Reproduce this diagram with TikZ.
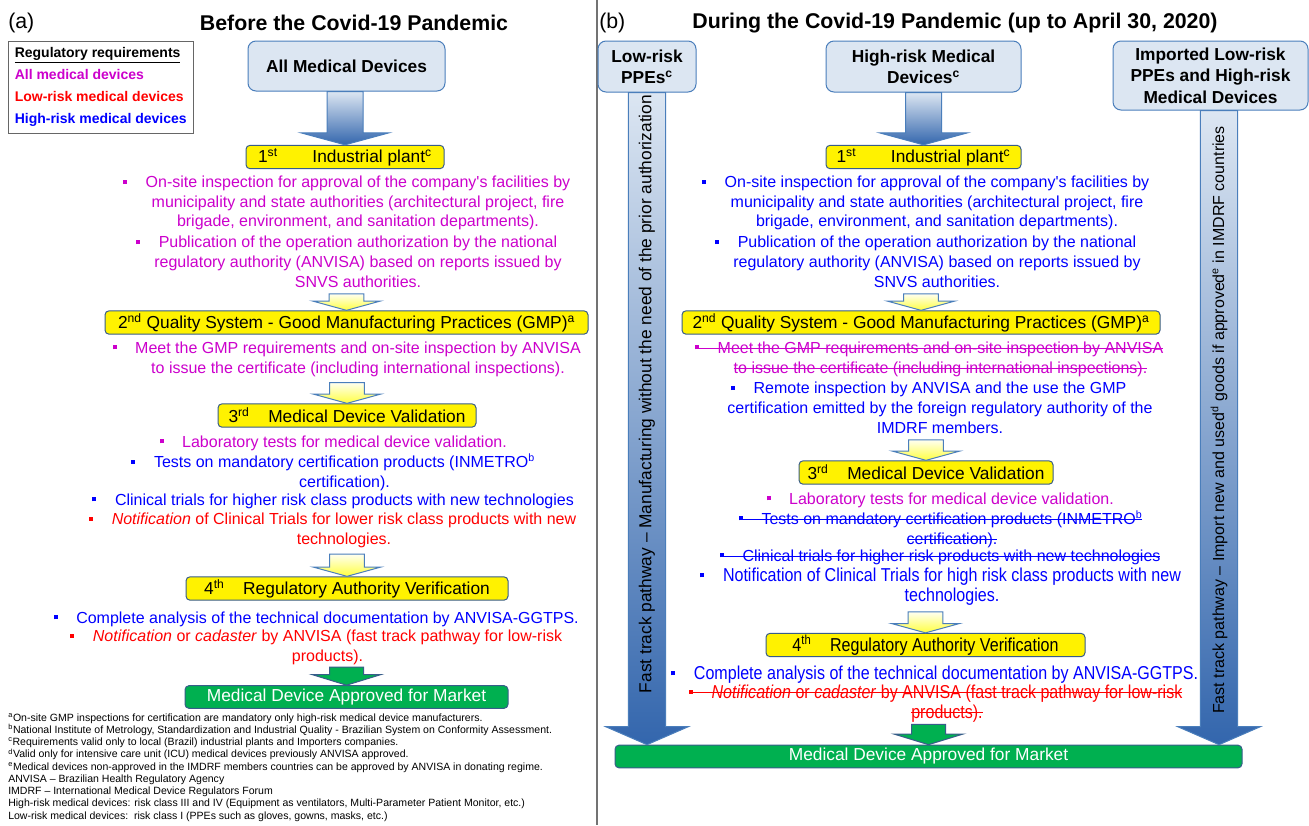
\documentclass[tikz,border=0pt]{standalone}
\usepackage{fontspec}
\setmainfont{Liberation Sans}
\newfontfamily\tallsf[FakeStretch=0.86]{Liberation Sans}
\usepackage{xcolor}
\usetikzlibrary{positioning, calc}

\definecolor{boxblue}{HTML}{DCE6F2}
\definecolor{edgeblue}{HTML}{4A7EBB}
\definecolor{darkedge}{HTML}{385D8A}
\definecolor{magentatxt}{HTML}{CC00CC}
\definecolor{redtxt}{HTML}{FF0000}
\definecolor{bluetxt}{HTML}{0000FF}
\definecolor{okgreen}{HTML}{00B050}
\definecolor{arrowdark}{HTML}{3366AD}
\definecolor{arrowlight}{HTML}{DCE6F2}

% hanging bullets, plain and struck out
\newsavebox{\strikebox}
\newcommand{\bul}{\llap{\rule[0.24em]{3pt}{3pt}\hspace{14pt}}}
\newcommand{\sbul}{\llap{\rule[0.24em]{3pt}{3pt}\rule[0.27em]{14pt}{0.6pt}}}
\newcommand{\striked}[1]{\sbox{\strikebox}{#1}\rlap{\rule[0.27em]{\wd\strikebox}{0.6pt}}\usebox{\strikebox}}

% block arrow pointing down: style, top, tip, half shaft, half head, head length, top gap
\newcommand{\stagearrow}[7]{%
  \path[#1] let \p1=#2, \p2=#3 in
    (\x2-#4,\y1-#7) -- (\x2+#4,\y1-#7) -- (\x2+#4,\y2+#6) -- (\x2+#5,\y2+#6)
    -- (\x2,\y2) -- (\x2-#5,\y2+#6) -- (\x2-#4,\y2+#6) -- cycle;}

\begin{document}
\begin{tikzpicture}[x=0.75pt, y=-0.75pt,
    title/.style={inner sep=0pt, font=\fontsize{16}{19}\selectfont\bfseries},
    panel/.style={inner sep=0pt, anchor=west, font=\fontsize{16}{19}\selectfont},
    legend/.style={draw=black!60, line width=0.75pt, fill=white, align=left,
      minimum width=138.4pt, minimum height=69pt, inner xsep=5pt,
      font=\fontsize{10.5}{16.5}\selectfont\bfseries},
    srcbox/.style={draw=edgeblue, fill=boxblue, rounded corners=6pt, line width=0.75pt,
      align=center, inner sep=0pt, font=\fontsize{13}{16}\selectfont\bfseries},
    stagebox/.style={draw=darkedge, fill=yellow, rounded corners=3pt, line width=0.75pt,
      minimum height=17.5pt, inner sep=0pt, font=\fontsize{13}{15}\selectfont},
    approved/.style={draw=darkedge, fill=okgreen, text=white, rounded corners=3pt,
      line width=0.75pt, minimum height=17pt, inner sep=0pt, font=\fontsize{13}{15}\selectfont},
    txt/.style={align=center, inner sep=0pt, font=\fontsize{12}{14.85}\selectfont},
    tall/.style={font=\tallsf\fontsize{14}{15}\selectfont},
    note/.style={align=left, inner sep=0pt, anchor=north west, font=\fontsize{7.9}{9.2}\selectfont},
    bluearrow/.style={draw=edgeblue, line width=0.75pt, top color=arrowlight, bottom color=arrowdark},
    yellowarrow/.style={draw=edgeblue, line width=0.75pt, top color=yellow!6, bottom color=yellow!75},
    greenarrow/.style={draw=darkedge, line width=0.75pt, fill=okgreen},
    fasttxt/.style={inner sep=0pt, rotate=90, font=\fontsize{13}{15}\selectfont}]

    \fill[white] (0,0) rectangle (1309,825);
    \useasboundingbox (0,0) rectangle (1309,825);
    \draw[black!55, line width=1.5pt] (597,0) -- (597,825);

    % ---- (a) before the pandemic
    \node[panel] (lblA) at (8,23) {(a)};
    \node[title] (titleA) at (354,23) {Before the Covid-19 Pandemic};
    \node[legend] (legend) at (100.75,87) {\underline{Regulatory requirements}\\
      \textcolor{magentatxt}{All medical devices}\\
      \textcolor{redtxt}{Low-risk medical devices}\\
      \textcolor{bluetxt}{High-risk medical devices}};

    \node[srcbox, minimum width=147.75pt, minimum height=37.5pt] (amd) at (346.5,66) {All Medical Devices};
    \node[stagebox, minimum width=148.5pt] (plantA) at (345,157)
      {1\textsuperscript{st}\hspace{26pt}Industrial plant\textsuperscript{c}};
    \node[txt, text=magentatxt] (onsiteA) at (358,203) {\bul On-site inspection for approval of the company\textquotesingle s facilities by\\
      municipality and state authorities (architectural project, fire\\
      brigade, environment, and sanitation departments).};
    \node[txt, text=magentatxt] (pubA) at (358,262) {\bul Publication of the operation authorization by the national\\
      regulatory authority (ANVISA) based on reports issued by\\ SNVS authorities.};
    \node[stagebox, minimum width=362.25pt] (gmpA) at (346.5,322.5)
      {2\textsuperscript{nd} Quality System - Good Manufacturing Practices (GMP)\textsuperscript{a}};
    \node[txt, text=magentatxt] (meetA) at (358,359) {\bul Meet the GMP requirements and on-site inspection by ANVISA\\
      to issue the certificate (including international inspections).};
    \node[stagebox, minimum width=193.5pt] (valA) at (347,415.5)
      {3\textsuperscript{rd}\hspace{14pt}Medical Device Validation};
    \node[txt, text=magentatxt] (labA) at (344.5,443) {\bul Laboratory tests for medical device validation.};
    \node[txt, text=bluetxt] (testsA) at (344.5,472.5) {\bul Tests on mandatory certification products (INMETRO\textsuperscript{b}\\ certification).};
    \node[txt, text=bluetxt] (clinA) at (344.5,501) {\bul Clinical trials for higher risk class products with new technologies};
    \node[txt, text=redtxt] (notifA) at (344,530.5) {\bul \textit{Notification} of Clinical Trials for lower risk class products with new\\ technologies.};
    \node[stagebox, minimum width=241.5pt] (verA) at (347,588.5)
      {4\textsuperscript{th}\hspace{14pt}Regulatory Authority Verification};
    \node[txt, text=bluetxt] (compA) at (327.5,619) {\bul Complete analysis of the technical documentation by ANVISA-GGTPS.};
    \node[txt, text=redtxt] (cadA) at (327.5,647.5) {\bul \textit{Notification} or \textit{cadaster} by ANVISA (fast track pathway for low-risk\\ products).};
    \node[approved, minimum width=242.25pt] (apprA) at (346.5,697) {Medical Device Approved for Market};

    \node[note] (notesA) at (8,713) {\textsuperscript{a}On-site GMP inspections for certification are mandatory only high-risk medical device manufacturers.\\
      \textsuperscript{b}National Institute of Metrology, Standardization and Industrial Quality - Brazilian System on Conformity Assessment.\\
      \textsuperscript{c}Requirements valid only to local (Brazil) industrial plants and Importers companies.\\
      \textsuperscript{d}Valid only for intensive care unit (ICU) medical devices previously ANVISA approved.\\
      \textsuperscript{e}Medical devices non-approved in the IMDRF members countries can be approved by ANVISA in donating regime.\\
      ANVISA -- Brazilian Health Regulatory Agency\\
      IMDRF -- International Medical Device Regulators Forum\\
      High-risk medical devices: risk class III and IV (Equipment as ventilators, Multi-Parameter Patient Monitor, etc.)\\
      Low-risk medical devices:\ \ risk class I (PPEs such as gloves, gowns, masks, etc.)};

    \stagearrow{bluearrow}{(amd.south)}{(plantA.north)}{13.5pt}{33pt}{9pt}{0pt}
    \stagearrow{yellowarrow}{(pubA.south)}{(gmpA.north)}{13pt}{25.5pt}{7pt}{4.5pt}
    \stagearrow{yellowarrow}{(meetA.south)}{(valA.north)}{13pt}{25.5pt}{7pt}{4.5pt}
    \stagearrow{yellowarrow}{(notifA.south)}{(verA.north)}{13pt}{25.5pt}{7pt}{4.5pt}
    \stagearrow{greenarrow}{(cadA.south)}{(apprA.north)}{12.75pt}{26pt}{8pt}{1.5pt}

    % ---- (b) during the pandemic
    \node[panel] (lblB) at (599,23) {(b)};
    \node[title] (titleB) at (955,23) {During the Covid-19 Pandemic (up to April 30, 2020)};

    \node[srcbox, minimum width=73.5pt, minimum height=38.25pt] (lowppe) at (647,66.5) {Low-risk\\ PPEs\textsuperscript{c}};
    \node[srcbox, minimum width=146.25pt, minimum height=38.25pt] (hrmd) at (923.5,66.5) {High-risk Medical\\ Devices\textsuperscript{c}};
    \node[srcbox, minimum width=146.25pt, minimum height=51.75pt] (impt) at (1210.5,75.5) {Imported Low-risk\\ PPEs and High-risk\\ Medical Devices};

    \node[stagebox, minimum width=146.25pt] (plantB) at (923.5,157)
      {1\textsuperscript{st}\hspace{26pt}Industrial plant\textsuperscript{c}};
    \node[txt, text=bluetxt] (onsiteB) at (937,203) {\bul On-site inspection for approval of the company\textquotesingle s facilities by\\
      municipality and state authorities (architectural project, fire\\
      brigade, environment, and sanitation departments).};
    \node[txt, text=bluetxt] (pubB) at (937,262) {\bul Publication of the operation authorization by the national\\
      regulatory authority (ANVISA) based on reports issued by\\ SNVS authorities.};
    \node[stagebox, minimum width=358.5pt] (gmpB) at (921,322.5)
      {2\textsuperscript{nd} Quality System - Good Manufacturing Practices (GMP)\textsuperscript{a}};
    \node[txt, text=magentatxt] (meetB) at (940.5,359) {\sbul\striked{Meet the GMP requirements and on-site inspection by ANVISA}\\
      \striked{to issue the certificate (including international inspections).}};
    \node[txt, text=bluetxt] (remoteB) at (940,408) {\bul Remote inspection by ANVISA and the use the GMP\\
      certification emitted by the foreign regulatory authority of the\\ IMDRF members.};
    \node[stagebox, minimum width=190.5pt] (valB) at (926,472.5)
      {3\textsuperscript{rd}\hspace{14pt}Medical Device Validation};
    \node[txt, text=magentatxt] (labB) at (951.5,500) {\bul Laboratory tests for medical device validation.};
    \node[txt, text=bluetxt] (testsB) at (952,529) {\sbul\striked{Tests on mandatory certification products (INMETRO\textsuperscript{b}}\\ \striked{certification).}};
    \node[txt, text=bluetxt] (clinB) at (951.5,557) {\sbul\striked{Clinical trials for higher risk products with new technologies}};
    \node[txt, tall, text=bluetxt] (notifB) at (952,587) {\bul Notification of Clinical Trials for high risk class products with new\\ technologies.};
    \node[stagebox, tall, minimum width=239.25pt] (verB) at (925.5,645)
      {4\textsuperscript{th}\hspace{14pt}Regulatory Authority Verification};
    \node[txt, tall, text=bluetxt] (compB) at (946,675) {\bul Complete analysis of the technical documentation by ANVISA-GGTPS.};
    \node[txt, tall, text=redtxt] (cadB) at (947,703.5) {\sbul\striked{\textit{Notification} or \textit{cadaster} by ANVISA (fast track pathway for low-risk}\\ \striked{products).}};
    \node[approved, minimum width=470.25pt] (apprB) at (928.5,756.5) {Medical Device Approved for Market};

    \stagearrow{bluearrow}{(hrmd.south)}{(plantB.north)}{13.5pt}{33pt}{9pt}{0pt}
    \stagearrow{yellowarrow}{(pubB.south)}{(gmpB.north)}{13pt}{25.5pt}{7pt}{4.5pt}
    \stagearrow{yellowarrow}{(remoteB.south)}{(valB.north)}{13pt}{25.5pt}{7pt}{4.5pt}
    \stagearrow{yellowarrow}{(notifB.south)}{(verB.north)}{13pt}{25.5pt}{7pt}{4.5pt}
    \stagearrow{greenarrow}{(cadB.south)}{(apprB.north)}{12.75pt}{26pt}{8pt}{1.5pt}

    % fast track pathways down the sides
    \coordinate (imptfoot) at ([xshift=6.4pt]impt.south);
    \stagearrow{bluearrow}{(lowppe.south)}{(lowppe.south |- apprB.north)}{14pt}{31pt}{13.5pt}{0pt}
    \stagearrow{bluearrow}{(imptfoot)}{(imptfoot |- apprB.north)}{14pt}{31pt}{13.5pt}{0pt}
    \node[fasttxt] (fastL) at (647,394) {Fast track pathway -- Manufacturing without the need of the prior authorization};
    \node[fasttxt, font=\fontsize{12}{14}\selectfont] (fastR) at (1219,420) {Fast track pathway -- Import new and used\textsuperscript{d} goods if approved\textsuperscript{e} in IMDRF countries};
\end{tikzpicture}
\end{document}
